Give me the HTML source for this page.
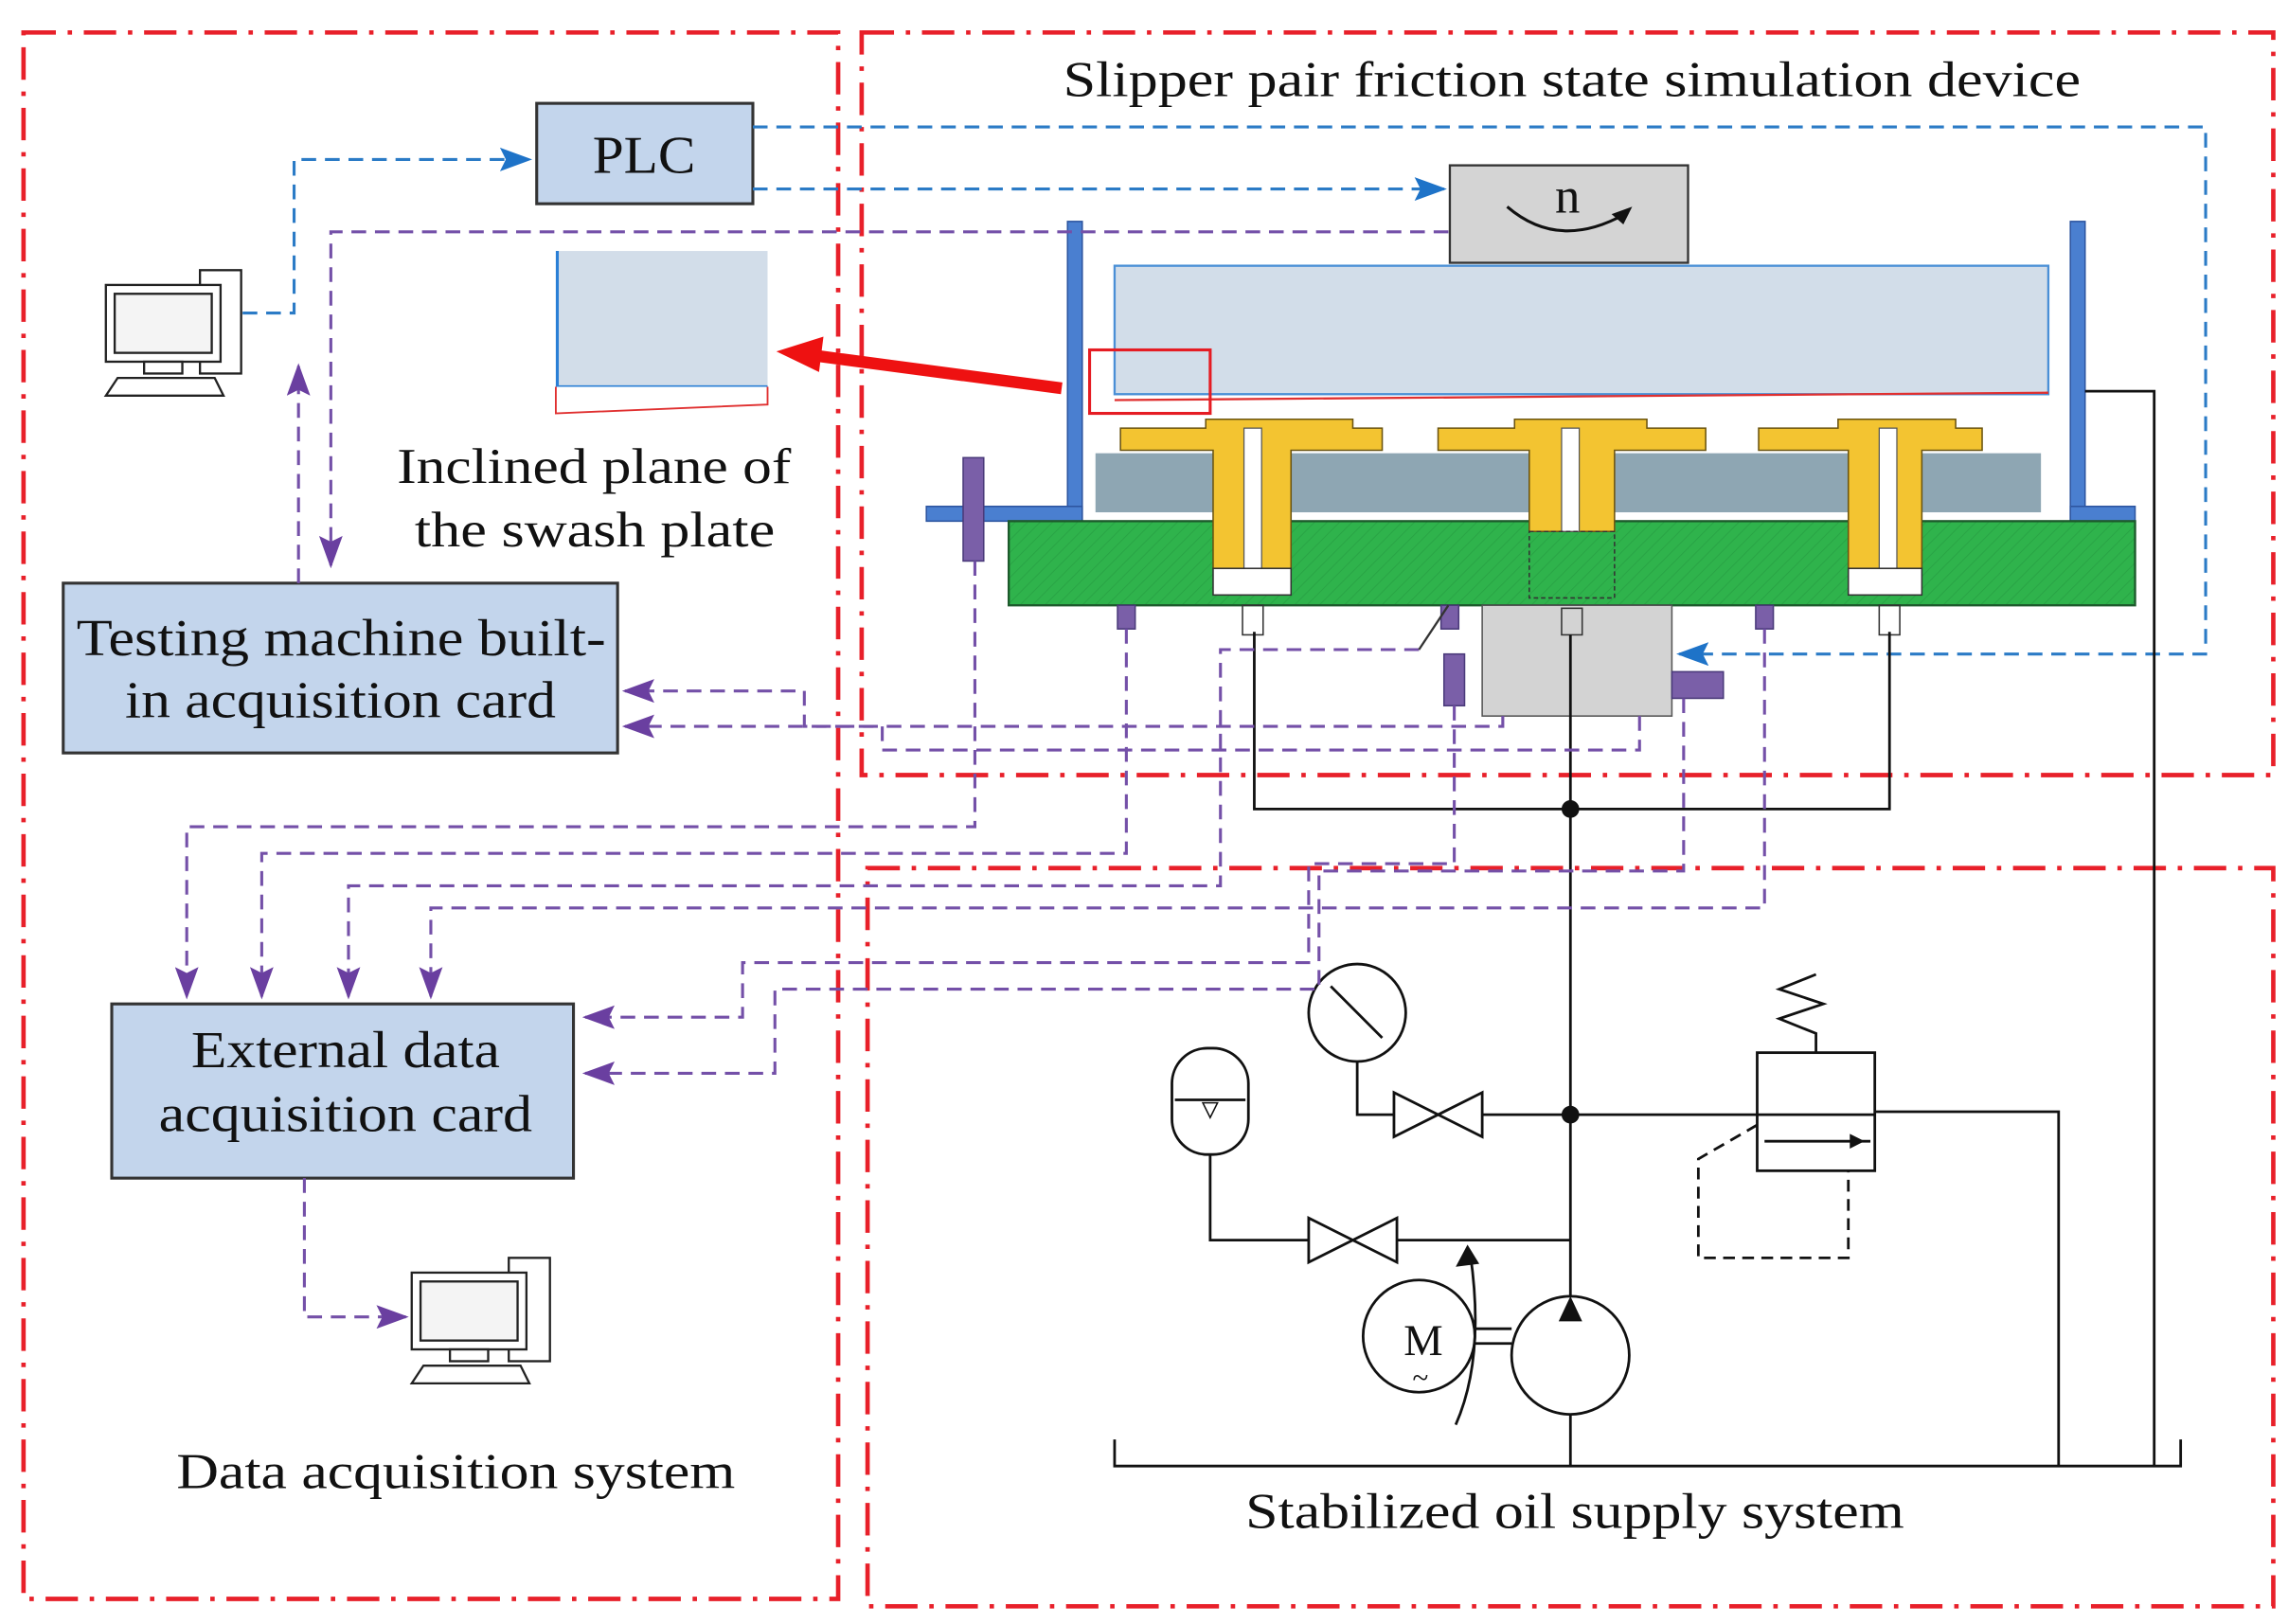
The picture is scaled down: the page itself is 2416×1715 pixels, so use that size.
<!DOCTYPE html>
<html><head><meta charset="utf-8"><style>
html,body{margin:0;padding:0;background:#fff}
svg{display:block}
text{font-family:"Liberation Serif",serif;fill:#111}
</style></head><body>
<svg width="2416" height="1715" viewBox="0 0 1556 1100" preserveAspectRatio="none" xmlns="http://www.w3.org/2000/svg">
<defs>
<marker id="ba" markerWidth="22" markerHeight="16" refX="20" refY="8" orient="auto" markerUnits="userSpaceOnUse"><path d="M0,0 L22,8 L0,16 L4,8Z" fill="#1e73c8"/></marker>
<marker id="pb" markerWidth="22" markerHeight="16" refX="20" refY="8" orient="auto" markerUnits="userSpaceOnUse"><path d="M0,0 L22,8 L0,16 L4,8Z" fill="#6a3fa0"/></marker>
<pattern id="hatch" width="6" height="6" patternUnits="userSpaceOnUse" patternTransform="rotate(45)"><rect width="6" height="6" fill="#2fb34c"/><line x1="0" y1="0" x2="0" y2="6" stroke="#27a043" stroke-width="1"/></pattern>
</defs>

<g fill="none" stroke="#e8202a" stroke-width="3" stroke-dasharray="22,8,3,8">
<rect x="16" y="22" width="554" height="1061"/>
<rect x="586" y="22" width="960" height="503"/>
<rect x="590" y="588" width="956" height="500"/>
</g>

<text x="723" y="65" font-size="34" textLength="692" lengthAdjust="spacingAndGlyphs">Slipper pair friction state simulation device</text>

<rect x="365" y="70" width="147" height="68" fill="#c3d5ec" stroke="#333" stroke-width="2"/>
<text x="403" y="117" font-size="36" textLength="70" lengthAdjust="spacingAndGlyphs">PLC</text>

<g fill="none" stroke="#2b7bc6" stroke-width="2" stroke-dasharray="10,6">
<polyline points="165,212 200,212 200,108 360,108" marker-end="url(#ba)"/>
<polyline points="512,128 982,128" marker-end="url(#ba)"/>
<polyline points="512,86 1500,86 1500,443 1142,443" marker-end="url(#ba)"/>
</g>

<rect x="986" y="112" width="162" height="66" fill="#d4d4d4" stroke="#333" stroke-width="1.5"/>
<text x="1066" y="144" font-size="34" text-anchor="middle">n</text>
<path d="M1025,140 Q1060,170 1105,145" fill="none" stroke="#111" stroke-width="2"/>
<path d="M1110,140 L1096,145 L1104,152Z" fill="#111"/>

<rect x="758" y="180" width="635" height="87" fill="#d2dde9" stroke="#4a8fd6" stroke-width="1.5"/>
<line x1="758" y1="271" x2="1393" y2="266" stroke="#e03030" stroke-width="1.5"/>
<rect x="741" y="237" width="82" height="43" fill="none" stroke="#e51c23" stroke-width="2"/>
<line x1="722" y1="263" x2="555" y2="241" stroke="#ee1111" stroke-width="8"/>
<path d="M528,238 L560,228 L557,252Z" fill="#ee1111"/>

<rect x="378" y="170" width="144" height="92" fill="#d2dde9"/>
<line x1="379" y1="170" x2="379" y2="262" stroke="#2a7fd6" stroke-width="2"/>
<line x1="378" y1="262" x2="522" y2="262" stroke="#2a7fd6" stroke-width="2"/>
<path d="M378,262 L378,280 L522,274 L522,262" fill="#fff" stroke="#e03030" stroke-width="1.2"/>
<text x="270" y="327" font-size="34" textLength="268" lengthAdjust="spacingAndGlyphs">Inclined plane of</text>
<text x="282" y="370" font-size="34" textLength="245" lengthAdjust="spacingAndGlyphs">the swash plate</text>

<g fill="#4a7fd0" stroke="#2d55a0" stroke-width="1">
<rect x="726" y="150" width="10" height="203"/>
<rect x="630" y="343" width="106" height="10"/>
<rect x="1408" y="150" width="10" height="203"/>
<rect x="1408" y="343" width="44" height="10"/>
</g>

<rect x="686" y="353" width="766" height="57" fill="url(#hatch)" stroke="#1d5a2c" stroke-width="1.5"/>
<rect x="745" y="307" width="643" height="40" fill="#8ea6b3"/>

<g fill="#f3c431" stroke="#6b5410" stroke-width="1">
<path d="M762,290 L820,290 L820,284 L920,284 L920,290 L940,290 L940,305 L878,305 L878,385 L825,385 L825,305 L762,305Z"/>
<path d="M978,290 L1030,290 L1030,284 L1120,284 L1120,290 L1160,290 L1160,305 L1098,305 L1098,360 L1040,360 L1040,305 L978,305Z"/>
<path d="M1196,290 L1250,290 L1250,284 L1330,284 L1330,290 L1348,290 L1348,305 L1307,305 L1307,385 L1257,385 L1257,305 L1196,305Z"/>
</g>
<rect x="846" y="290" width="12" height="95" fill="#fff" stroke="#555" stroke-width="0.8"/>
<rect x="1062" y="290" width="12" height="70" fill="#fff" stroke="#555" stroke-width="0.8"/>
<rect x="1278" y="290" width="12" height="95" fill="#fff" stroke="#555" stroke-width="0.8"/>
<rect x="825" y="385" width="53" height="18" fill="#fff" stroke="#333"/>
<rect x="1257" y="385" width="50" height="18" fill="#fff" stroke="#333"/>
<rect x="1040" y="360" width="58" height="45" fill="none" stroke="#333" stroke-dasharray="3,2"/>

<rect x="1008" y="410" width="129" height="75" fill="#d3d3d3" stroke="#555"/>
<g fill="#7a5fa8" stroke="#4a3a7a">
<rect x="655" y="310" width="14" height="70"/>
<rect x="760" y="410" width="12" height="16"/>
<rect x="980" y="410" width="12" height="16"/>
<rect x="1194" y="410" width="12" height="16"/>
<rect x="982" y="443" width="14" height="35"/>
<rect x="1137" y="455" width="35" height="18"/>
</g>
<g fill="none" stroke="#333" stroke-width="1">
<rect x="845" y="410" width="14" height="20"/>
<rect x="1278" y="410" width="14" height="20"/>
<rect x="1062" y="412" width="14" height="18"/>
</g>

<g fill="none" stroke="#111" stroke-width="1.8">
<polyline points="853,428 853,548 1285,548 1285,428"/>
<line x1="1068" y1="430" x2="1068" y2="878"/>
<polyline points="1418,265 1465,265 1465,993"/>
<polyline points="758,975 758,993 1483,993 1483,975"/>
<polyline points="1275,753 1400,753 1400,993"/>
<line x1="1068" y1="958" x2="1068" y2="993"/>
<line x1="1008" y1="755" x2="1195" y2="755"/>
<polyline points="923,719 923,755 948,755"/>
<polyline points="823,780 823,840 890,840"/>
<line x1="950" y1="840" x2="1068" y2="840"/>
<path d="M948,740 L1008,770 L1008,740 L948,770Z"/>
<path d="M890,825 L950,855 L950,825 L890,855Z"/>
<circle cx="923" cy="686" r="33" fill="#fff"/>
<line x1="905" y1="668" x2="940" y2="703"/>
<rect x="797" y="710" width="52" height="72" rx="24" fill="#fff"/>
<line x1="799" y1="745" x2="847" y2="745"/>
<rect x="1195" y="713" width="80" height="80" fill="#fff"/>
<line x1="1195" y1="755" x2="1275" y2="755"/>
<line x1="1200" y1="773" x2="1272" y2="773"/>
<polyline points="1235,713 1235,700 1210,690 1240,680 1210,670 1235,660"/>
<polyline points="1195,762 1155,785 1155,852 1257,852 1257,793" stroke-dasharray="8,5"/>
<circle cx="965" cy="905" r="38" fill="#fff"/>
<circle cx="1068" cy="918" r="40" fill="#fff"/>
<line x1="1003" y1="900" x2="1028" y2="900"/><line x1="1003" y1="910" x2="1028" y2="910"/>
<path d="M990,965 Q1010,920 1000,850"/>
</g>
<path d="M1268,773 L1258,768 L1258,778Z" fill="#111"/>
<path d="M818,747 L828,747 L823,757Z" fill="none" stroke="#111"/>
<path d="M1068,878 L1060,895 L1076,895Z" fill="#111"/>
<path d="M998,843 L990,858 L1006,856Z" fill="#111"/>
<circle cx="1068" cy="548" r="6" fill="#111"/>
<circle cx="1068" cy="755" r="6" fill="#111"/>
<text x="968" y="918" font-size="30" text-anchor="middle">M</text>
<text x="966" y="940" font-size="20" text-anchor="middle">~</text>

<rect x="43" y="395" width="377" height="115" fill="#c3d5ec" stroke="#333" stroke-width="2"/>
<text x="52" y="444" font-size="35" textLength="360" lengthAdjust="spacingAndGlyphs">Testing machine built-</text>
<text x="85" y="486" font-size="35" textLength="293" lengthAdjust="spacingAndGlyphs">in acquisition card</text>
<rect x="76" y="680" width="314" height="118" fill="#c3d5ec" stroke="#333" stroke-width="2"/>
<text x="130" y="723" font-size="35" textLength="210" lengthAdjust="spacingAndGlyphs">External data</text>
<text x="108" y="766" font-size="35" textLength="254" lengthAdjust="spacingAndGlyphs">acquisition card</text>

<g fill="none" stroke="#7450a8" stroke-width="2" stroke-dasharray="10,6">
<polyline points="203,395 203,248" marker-end="url(#pb)"/>
<polyline points="985,157 225,157 225,383" marker-end="url(#pb)"/>
<polyline points="663,380 663,560 127,560 127,675" marker-end="url(#pb)"/>
<polyline points="766,426 766,578 178,578 178,675" marker-end="url(#pb)"/>
<polyline points="965,440 830,440 830,600 237,600 237,675" marker-end="url(#pb)"/>
<polyline points="1200,426 1200,615 293,615 293,675" marker-end="url(#pb)"/>
<polyline points="1022,485 1022,492 547,492 547,468 425,468" marker-end="url(#pb)"/>
<polyline points="1115,485 1115,508 600,508 600,492 425,492" marker-end="url(#pb)"/>
<polyline points="989,478 989,585 890,585 890,652 505,652 505,689 398,689" marker-end="url(#pb)"/>
<polyline points="1145,473 1145,590 897,590 897,670 527,670 527,727 398,727" marker-end="url(#pb)"/>
<polyline points="207,798 207,892 276,892" marker-end="url(#pb)"/>
</g>
<line x1="965" y1="440" x2="985" y2="410" stroke="#333" stroke-width="1.5"/>

<g fill="#fff" stroke="#222" stroke-width="1.5">
<rect x="136" y="183" width="28" height="70"/>
<rect x="72" y="193" width="78" height="52"/>
<rect x="78" y="199" width="66" height="40" fill="#f4f4f4"/>
<rect x="98" y="245" width="26" height="8"/>
<path d="M72,268 L80,256 L146,256 L152,268Z"/>
<rect x="346" y="852" width="28" height="70"/>
<rect x="280" y="862" width="78" height="52"/>
<rect x="286" y="868" width="66" height="40" fill="#f4f4f4"/>
<rect x="306" y="914" width="26" height="8"/>
<path d="M280,937 L288,925 L354,925 L360,937Z"/>
</g>

<text x="120" y="1008" font-size="34" textLength="380" lengthAdjust="spacingAndGlyphs">Data acquisition system</text>
<text x="847" y="1035" font-size="34" textLength="448" lengthAdjust="spacingAndGlyphs">Stabilized oil supply system</text>
</svg>
</body></html>
